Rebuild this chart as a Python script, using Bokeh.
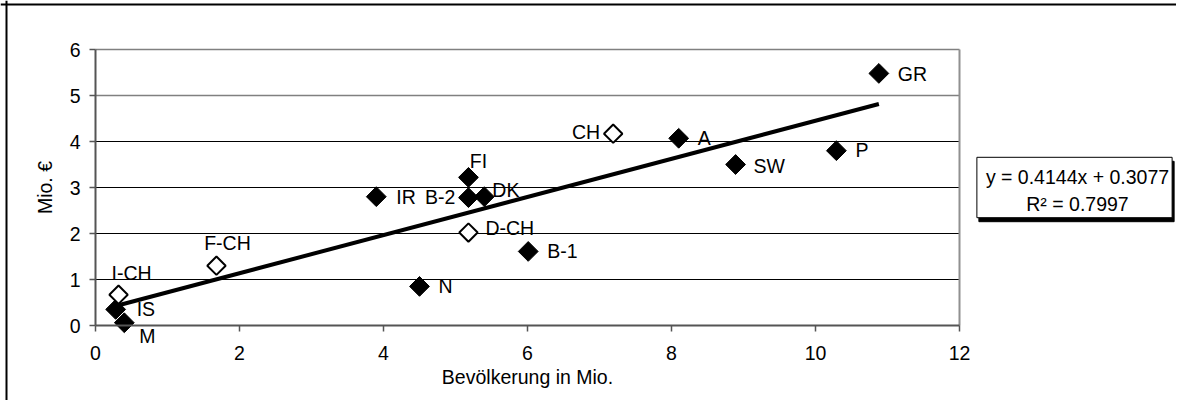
from bokeh.plotting import figure
from bokeh.models import (ColumnDataSource, LabelSet, Label, FixedTicker, Range1d,
                          LinearAxis, Grid, Span)
from bokeh.embed import file_html
from bokeh.resources import INLINE
from bokeh.core.properties import value
import math

# ---- data ----
labels = ["GR", "P", "SW", "A", "CH", "FI", "B-2", "DK", "IR", "D-CH", "B-1", "N", "F-CH", "I-CH", "IS", "M"]
population = [10.88, 10.29, 8.89, 8.10, 7.19, 5.18, 5.18, 5.40, 3.90, 5.18, 6.01, 4.50, 1.68, 0.32, 0.28, 0.40]
cost = [5.48, 3.80, 3.50, 4.07, 4.17, 3.22, 2.78, 2.80, 2.80, 2.02, 1.61, 0.85, 1.30, 0.67, 0.35, 0.06]
open_marker = ["CH", "D-CH", "F-CH", "I-CH"]
slope = 0.4144
intercept = 0.3077
r_squared = 0.7997
x_ticks = [0, 2, 4, 6, 8, 10, 12]
y_ticks = [0, 1, 2, 3, 4, 5, 6]
x_lim = (0, 12)
y_lim = (0, 6)

# label placement (screen px offsets, alignment)
placement = {
    "GR": (19, -1, "left"), "P": (19, 1, "left"), "SW": (18, -1, "left"),
    "A": (19, 0, "left"), "CH": (-13, 2, "right"), "FI": (10, 16, "center"),
    "B-2": (-13, 1, "right"), "DK": (8, 7, "left"), "IR": (20, 0, "left"),
    "D-CH": (17, 5, "left"), "B-1": (19, 0, "left"), "N": (19, 0, "left"),
    "F-CH": (11, 23, "center"), "I-CH": (13, 22, "center"), "IS": (21, 0, "left"),
    "M": (15, -13, "left"),
}

FONT = "Liberation Sans"
FS = "19.5px"

# layout: whole canvas is the frame; axes sit at fixed locations inside it
W, H = 1176, 400
PX_X, PX_Y = 72.0, 46.0          # pixels per data unit
ORIGIN_X, ORIGIN_Y = 95, 325     # canvas pixel of (0, 0), from left / top
x_range = Range1d(-ORIGIN_X / PX_X, (W - ORIGIN_X) / PX_X)
y_range = Range1d(-(H - ORIGIN_Y) / PX_Y, ORIGIN_Y / PX_Y)

p = figure(width=W, height=H, output_backend="svg", toolbar_location=None,
           x_range=x_range, y_range=y_range,
           x_axis_location=None, y_axis_location=None,
           min_border=0, min_border_left=0, min_border_right=0,
           min_border_top=0, min_border_bottom=0)
p.background_fill_color = "white"
p.border_fill_color = "white"
p.outline_line_color = None
for r in list(p.center):
    if isinstance(r, Grid):
        r.visible = False

# outer frame (only left & top edges fall inside the picture)
p.add_layout(Span(location=(6 - ORIGIN_X) / PX_X, dimension="height", line_color="black", line_width=2))
p.add_layout(Span(location=(ORIGIN_Y - 4) / PX_Y, dimension="width", line_color="black", line_width=2))

# horizontal grid lines across the plot area, plus its right border
inner = y_ticks[1:5]
upper = y_ticks[5:]
p.multi_line([list(x_lim) for _ in inner], [[t, t] for t in inner], line_color="black", line_width=1)
p.multi_line([list(x_lim) for _ in upper], [[t, t] for t in upper], line_color="#808080", line_width=1.5)
p.line([x_lim[1], x_lim[1]], list(y_lim), line_color="#909090", line_width=2)

xaxis = LinearAxis(fixed_location=0, bounds=x_lim, ticker=FixedTicker(ticks=x_ticks),
                   axis_label="Bevölkerung in Mio.")
yaxis = LinearAxis(fixed_location=0, bounds=y_lim, ticker=FixedTicker(ticks=y_ticks),
                   axis_label="Mio. €")
for ax in (xaxis, yaxis):
    ax.axis_line_color = "#555555"
    ax.axis_line_width = 2
    ax.major_tick_line_color = "#555555"
    ax.major_tick_line_width = 1.5
    ax.major_tick_out = 6
    ax.major_tick_in = 0
    ax.minor_tick_line_color = None
    ax.major_label_text_font = FONT
    ax.major_label_text_font_size = FS
    ax.major_label_text_color = "black"
    ax.axis_label_text_font = FONT
    ax.axis_label_text_font_size = FS
    ax.axis_label_text_font_style = "normal"
    ax.axis_label_text_color = "black"
xaxis.major_label_standoff = 14
yaxis.major_label_standoff = 9
xaxis.axis_label_standoff = 3
yaxis.axis_label_standoff = 11
p.add_layout(xaxis, "below")
p.add_layout(yaxis, "left")

# trend line
x0, x1 = min(population), max(population)
p.line([x0, x1], [slope * x0 + intercept, slope * x1 + intercept], line_color="black", line_width=4)

# markers
filled = ColumnDataSource(dict(
    x=[x for x, l in zip(population, labels) if l not in open_marker],
    y=[y for y, l in zip(cost, labels) if l not in open_marker]))
hollow = ColumnDataSource(dict(
    x=[x for x, l in zip(population, labels) if l in open_marker],
    y=[y for y, l in zip(cost, labels) if l in open_marker]))
p.scatter("x", "y", source=filled, marker="square", size=14, angle=math.pi / 4,
          fill_color="black", line_color="black", line_width=1)
p.scatter("x", "y", source=hollow, marker="square", size=13, angle=math.pi / 4,
          fill_color="white", line_color="black", line_width=2)

# point labels
for align in ("left", "right", "center"):
    sel = [i for i, l in enumerate(labels) if placement[l][2] == align]
    src = ColumnDataSource(dict(
        x=[population[i] for i in sel], y=[cost[i] for i in sel],
        t=[labels[i] for i in sel],
        dx=[placement[labels[i]][0] for i in sel],
        dy=[placement[labels[i]][1] for i in sel]))
    p.add_layout(LabelSet(x="x", y="y", text="t", source=src, x_offset="dx", y_offset="dy",
                          text_align=align, text_baseline="middle",
                          text_font=value(FONT), text_font_size=FS, text_color="black"))

# regression box
eq_text = f"y = {slope:.4f}x + {intercept:.4f}\nR\u00b2 = {r_squared:.4f}"
box_x, box_y = (1074 - ORIGIN_X) / PX_X, (ORIGIN_Y - 187) / PX_Y
shadow = Label(x=box_x, y=box_y, x_offset=2, y_offset=-4, text=eq_text,
               text_align="center", text_baseline="middle",
               text_font=FONT, text_font_size=FS, text_color="black",
               background_fill_color="black", border_line_color="black",
               padding=(9, 3, 9, 3))
box = Label(x=box_x, y=box_y, text=eq_text,
            text_align="center", text_baseline="middle",
            text_font=FONT, text_font_size=FS, text_color="black",
            background_fill_color="white", border_line_color="black", border_line_width=1,
            padding=(9, 3, 9, 3))
p.add_layout(shadow)
p.add_layout(box)

open("out.html", "w").write(file_html(p, INLINE))
